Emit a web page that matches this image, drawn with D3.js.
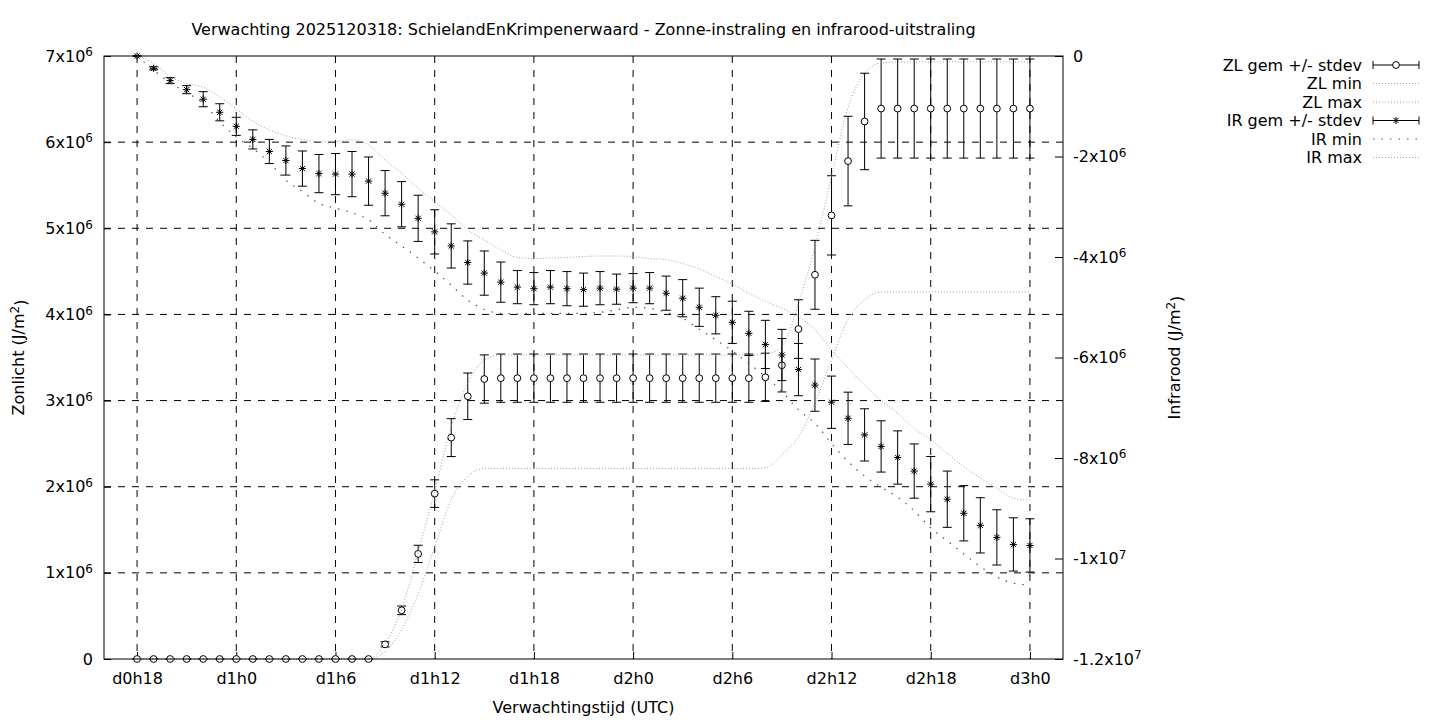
<!DOCTYPE html>
<html>
<head>
<meta charset="utf-8">
<script src="https://cdn.jsdelivr.net/npm/d3@7"></script>
<style>
  body { margin: 0; background: #fff; }
  svg { font-family: "DejaVu Sans", sans-serif; font-size: 16px; }
</style>
</head>
<body>
<svg id="vis"></svg>
<script>
// forecast hours (hours since d0h0)
const hours = [18, 19, 20, 21, 22, 23, 24, 25, 26, 27, 28, 29, 30, 31, 32, 33, 34, 35, 36,
  37, 38, 39, 40, 41, 42, 43, 44, 45, 46, 47, 48, 49, 50, 51, 52, 53, 54, 55, 56,
  57, 58, 59, 60, 61, 62, 63, 64, 65, 66, 67, 68, 69, 70, 71, 72];

// values in 10^6 J/m2
const zlMean = [0, 0, 0, 0, 0, 0, 0, 0, 0, 0, 0, 0, 0, 0, 0, 0.17, 0.565, 1.22, 1.92,
  2.57, 3.05, 3.25, 3.26, 3.26, 3.26, 3.26, 3.26, 3.26, 3.26, 3.26, 3.26, 3.26, 3.26, 3.26, 3.26, 3.26, 3.26, 3.26, 3.27,
  3.41, 3.83, 4.46, 5.15, 5.78, 6.24, 6.39, 6.39, 6.39, 6.39, 6.39, 6.39, 6.39, 6.39, 6.39, 6.39];
const zlStd = [0, 0, 0, 0, 0, 0, 0, 0, 0, 0, 0, 0, 0, 0, 0, 0.03, 0.05, 0.10, 0.16,
  0.22, 0.27, 0.28, 0.28, 0.28, 0.28, 0.28, 0.28, 0.28, 0.28, 0.28, 0.28, 0.28, 0.28, 0.28, 0.28, 0.28, 0.28, 0.28, 0.28,
  0.31, 0.34, 0.40, 0.46, 0.52, 0.56, 0.575, 0.575, 0.575, 0.575, 0.575, 0.575, 0.575, 0.575, 0.575, 0.575];
const zlMin = [0, 0, 0, 0, 0, 0, 0, 0, 0, 0, 0, 0, 0, 0, 0, 0.085, 0.34, 0.76, 1.30,
  1.85, 2.12, 2.21, 2.21, 2.21, 2.21, 2.21, 2.21, 2.21, 2.21, 2.21, 2.21, 2.21, 2.21, 2.21, 2.21, 2.21, 2.21, 2.21, 2.22,
  2.37, 2.58, 2.97, 3.47, 3.94, 4.17, 4.26, 4.26, 4.26, 4.26, 4.26, 4.26, 4.26, 4.26, 4.26, 4.26];
const zlMax = [0, 0, 0, 0, 0, 0, 0, 0, 0, 0, 0, 0, 0, 0, 0, 0.18, 0.58, 1.24, 1.95,
  2.70, 3.20, 3.47, 3.53, 3.53, 3.53, 3.53, 3.53, 3.53, 3.53, 3.53, 3.53, 3.53, 3.53, 3.53, 3.53, 3.53, 3.53, 3.53, 3.54,
  3.62, 4.13, 4.79, 5.60, 6.40, 6.80, 6.92, 6.93, 6.93, 6.93, 6.93, 6.93, 6.93, 6.93, 6.93, 6.93];

const irMean = [0, -0.245, -0.49, -0.67, -0.86, -1.12, -1.40, -1.66, -1.90, -2.08, -2.24, -2.34, -2.35, -2.35, -2.49,
  -2.73, -2.95, -3.23, -3.50, -3.78, -4.11, -4.32, -4.50, -4.60, -4.63, -4.60, -4.63, -4.65, -4.62, -4.64,
  -4.62, -4.62, -4.72, -4.82, -5.00, -5.16, -5.30, -5.52, -5.74, -5.95, -6.24, -6.55, -6.89, -7.21, -7.54,
  -7.77, -7.99, -8.26, -8.52, -8.82, -9.10, -9.34, -9.58, -9.72, -9.74];
const irStd = [0, 0.03, 0.06, 0.08, 0.15, 0.17, 0.18, 0.19, 0.24, 0.29, 0.35, 0.38, 0.41, 0.45, 0.48,
  0.45, 0.45, 0.46, 0.44, 0.44, 0.43, 0.44, 0.40, 0.33, 0.32, 0.33, 0.34, 0.33, 0.33, 0.30,
  0.29, 0.31, 0.34, 0.37, 0.38, 0.37, 0.42, 0.44, 0.48, 0.51, 0.52, 0.52, 0.52, 0.52, 0.52,
  0.51, 0.53, 0.54, 0.55, 0.56, 0.55, 0.55, 0.55, 0.53, 0.53];
const irMin = [0, -0.28, -0.53, -0.73, -0.94, -1.31, -1.61, -1.84, -2.12, -2.47, -2.70, -2.93, -3.03, -3.12, -3.26,
  -3.55, -3.78, -4.02, -4.28, -4.56, -4.86, -5.04, -5.12, -5.13, -5.12, -5.12, -5.12, -5.12, -5.10, -5.05,
  -5.00, -5.02, -5.10, -5.22, -5.44, -5.65, -5.87, -6.12, -6.38, -6.68, -7.04, -7.31, -7.71, -8.07, -8.36,
  -8.58, -8.78, -9.05, -9.39, -9.65, -9.91, -10.16, -10.37, -10.49, -10.53];
const irMax = [0, -0.15, -0.41, -0.55, -0.62, -0.82, -1.05, -1.30, -1.47, -1.59, -1.66, -1.70, -1.70, -1.67, -1.77,
  -2.07, -2.33, -2.63, -2.90, -3.16, -3.46, -3.66, -3.86, -4.01, -4.03, -4.02, -4.01, -3.99, -3.98, -3.98,
  -3.99, -4.03, -4.05, -4.13, -4.24, -4.39, -4.54, -4.72, -4.88, -5.02, -5.19, -5.45, -5.85, -6.21, -6.55,
  -6.85, -7.11, -7.41, -7.64, -7.91, -8.17, -8.40, -8.60, -8.80, -8.84];

const xTicks = [18, 24, 30, 36, 42, 48, 54, 60, 66, 72];
const xTickLabels = ["d0h18", "d1h0", "d1h6", "d1h12", "d1h18", "d2h0", "d2h6", "d2h12", "d2h18", "d3h0"];
const yTicks = [0, 1e6, 2e6, 3e6, 4e6, 5e6, 6e6, 7e6];
const y2Ticks = [0, -2e6, -4e6, -6e6, -8e6, -1e7, -1.2e7];

const legendLabels = ["ZL gem +/- stdev", "ZL min", "ZL max", "IR gem +/- stdev", "IR min", "IR max"];

const M = 1e6;

let config = { svg: {}, plot: {}, legend: {} };
config.svg.width = 1440;
config.svg.height = 720;
config.plot.left = 104;
config.plot.top = 56;
config.plot.right = 1063;
config.plot.bottom = 659;
config.legend.textX = 1362;
config.legend.x0 = 1373;
config.legend.x1 = 1419;
config.legend.y = 65;
config.legend.step = 18.5;

const svg = d3.select("svg#vis")
  .attr("width", config.svg.width)
  .attr("height", config.svg.height);

let scale = {};
scale.x = d3.scaleLinear().domain([16, 74]).range([config.plot.left, config.plot.right]);
scale.y = d3.scaleLinear().domain([0, 7e6]).range([config.plot.bottom, config.plot.top]);
scale.y2 = d3.scaleLinear().domain([-1.2e7, 0]).range([config.plot.bottom, config.plot.top]);

const grey = "#a0a0a0";
const dash = "7,7";

// grid
let grid = svg.append("g").attr("id", "grid");
grid.selectAll("line.gx")
  .data(xTicks)
  .enter()
  .append("line")
  .attr("x1", d => scale.x(d)).attr("x2", d => scale.x(d))
  .attr("y1", config.plot.top).attr("y2", config.plot.bottom)
  .attr("stroke", "#000").attr("stroke-dasharray", dash);
grid.selectAll("line.gy")
  .data(yTicks.slice(1, -1))
  .enter()
  .append("line")
  .attr("x1", config.plot.left).attr("x2", config.plot.right)
  .attr("y1", d => scale.y(d)).attr("y2", d => scale.y(d))
  .attr("stroke", "#000").attr("stroke-dasharray", dash);

// axes
function sci(sel) {
  sel.each(function(v) {
    let t = d3.select(this);
    if (v === 0) { t.text("0"); return; }
    let e = Math.floor(Math.log10(Math.abs(v)));
    let m = +(v / Math.pow(10, e)).toFixed(2);
    t.text(null);
    t.append("tspan").text(m + "x10");
    t.append("tspan").attr("dy", "-0.45em").attr("font-size", "12px").text(e);
  });
}

let ax = svg.append("g")
  .attr("transform", translate(0, config.plot.bottom))
  .call(d3.axisBottom(scale.x).tickValues(xTicks).tickSize(-7).tickPadding(14)
    .tickFormat((d, i) => xTickLabels[i]));
let ay = svg.append("g")
  .attr("transform", translate(config.plot.left, 0))
  .call(d3.axisLeft(scale.y).tickValues(yTicks).tickSize(-7).tickPadding(11));
let ay2 = svg.append("g")
  .attr("transform", translate(config.plot.right, 0))
  .call(d3.axisRight(scale.y2).tickValues(y2Ticks).tickSize(-8).tickPadding(10));

[ax, ay, ay2].forEach(a => {
  a.select(".domain").remove();
  a.attr("font-family", null).attr("font-size", null);
  a.selectAll("line").attr("stroke", "#000");
  a.selectAll("text").attr("fill", "#000");
});
ay.selectAll(".tick text").call(sci);
ay2.selectAll(".tick text").call(sci);

// data rows
let zl = hours.map((h, i) => ({ h: h, mean: zlMean[i] * M, sd: zlStd[i] * M, min: zlMin[i] * M, max: zlMax[i] * M }));
let ir = hours.map((h, i) => ({ h: h, mean: irMean[i] * M, sd: irStd[i] * M, min: irMin[i] * M, max: irMax[i] * M }));

const cap = 4.5;
const star = "M-3.6,0H3.6M0,-3.6V3.6M-2.6,-2.6L2.6,2.6M-2.6,2.6L2.6,-2.6";

function errorBars(data, y, marker) {
  let g = svg.append("g");
  let bars = g.selectAll("g").data(data).enter().append("g");
  bars.append("path")
    .attr("d", d => {
      let x = scale.x(d.h), y0 = y(d.mean - d.sd), y1 = y(d.mean + d.sd);
      return "M" + x + "," + y0 + "V" + y1 +
        "M" + (x - cap) + "," + y0 + "H" + (x + cap) +
        "M" + (x - cap) + "," + y1 + "H" + (x + cap);
    })
    .attr("stroke", "#000").attr("fill", "none");
  if (marker === "circle") {
    bars.append("circle")
      .attr("cx", d => scale.x(d.h)).attr("cy", d => y(d.mean))
      .attr("r", 3.4).attr("fill", "#fff").attr("stroke", "#000");
  } else {
    bars.append("path")
      .attr("transform", d => translate(scale.x(d.h), y(d.mean)))
      .attr("d", star).attr("stroke", "#000").attr("fill", "none");
  }
}

function curve(data, y, key, stroke, dasharray, width) {
  let line = d3.line().x(d => scale.x(d.h)).y(d => y(d[key])).curve(d3.curveMonotoneX);
  svg.append("path")
    .datum(data)
    .attr("d", line)
    .attr("fill", "none")
    .attr("stroke", stroke)
    .attr("stroke-width", width)
    .attr("stroke-dasharray", dasharray);
}

errorBars(zl, scale.y, "circle");
curve(zl, scale.y, "min", grey, "1,2", 1);
curve(zl, scale.y, "max", grey, "1,2", 1);
errorBars(ir, scale.y2, "star");
curve(ir, scale.y2, "min", "#555", "1.5,7", 1.2);
curve(ir, scale.y2, "max", grey, "1,2", 1);

// frame
svg.append("rect")
  .attr("x", config.plot.left).attr("y", config.plot.top)
  .attr("width", config.plot.right - config.plot.left)
  .attr("height", config.plot.bottom - config.plot.top)
  .attr("fill", "none").attr("stroke", "#000");

drawTitles();
drawLegend();

function drawTitles() {
  svg.append("text")
    .text("Verwachting 2025120318: SchielandEnKrimpenerwaard - Zonne-instraling en infrarood-uitstraling")
    .attr("x", 583.5).attr("y", 35)
    .attr("text-anchor", "middle");

  svg.append("text")
    .text("Verwachtingstijd (UTC)")
    .attr("x", 583.5).attr("y", 713)
    .attr("text-anchor", "middle");

  let yt = svg.append("text")
    .attr("transform", translate(24, 357.5) + " rotate(-90)")
    .attr("text-anchor", "middle");
  yt.append("tspan").text("Zonlicht (J/m");
  yt.append("tspan").attr("dy", "-0.45em").attr("font-size", "12px").text("2");
  yt.append("tspan").attr("dy", "0.45em").text(")");

  let yt2 = svg.append("text")
    .attr("transform", translate(1180, 357.5) + " rotate(-90)")
    .attr("text-anchor", "middle");
  yt2.append("tspan").text("Infrarood (J/m");
  yt2.append("tspan").attr("dy", "-0.45em").attr("font-size", "12px").text("2");
  yt2.append("tspan").attr("dy", "0.45em").text(")");
}

function drawLegend() {
  let legend = svg.append("g").attr("id", "legend");
  let rows = legend.selectAll("g")
    .data(legendLabels)
    .enter()
    .append("g")
    .attr("transform", (d, i) => translate(0, config.legend.y + i * config.legend.step));

  rows.append("text")
    .text(d => d)
    .attr("x", config.legend.textX)
    .attr("dy", "0.35em")
    .attr("text-anchor", "end");

  let x0 = config.legend.x0, x1 = config.legend.x1, xm = (x0 + x1) / 2;
  rows.each(function(d, i) {
    let row = d3.select(this);
    if (i === 0 || i === 3) {
      row.append("path")
        .attr("d", "M" + x0 + ",0H" + x1 + "M" + x0 + ",-4V4M" + x1 + ",-4V4")
        .attr("stroke", "#000").attr("fill", "none");
      if (i === 0) {
        row.append("circle").attr("cx", xm).attr("cy", 0).attr("r", 3.4)
          .attr("fill", "#fff").attr("stroke", "#000");
      } else {
        row.append("path").attr("transform", translate(xm, 0)).attr("d", star)
          .attr("stroke", "#000").attr("fill", "none");
      }
    } else {
      let dark = i === 4;
      row.append("line")
        .attr("x1", x0).attr("x2", x1).attr("y1", 0).attr("y2", 0)
        .attr("stroke", dark ? "#555" : grey)
        .attr("stroke-width", dark ? 1.2 : 1)
        .attr("stroke-dasharray", dark ? "1.5,7" : "1,2");
    }
  });
}

function translate(x, y) {
  return "translate(" + x + "," + y + ")";
}
</script>
</body>
</html>
